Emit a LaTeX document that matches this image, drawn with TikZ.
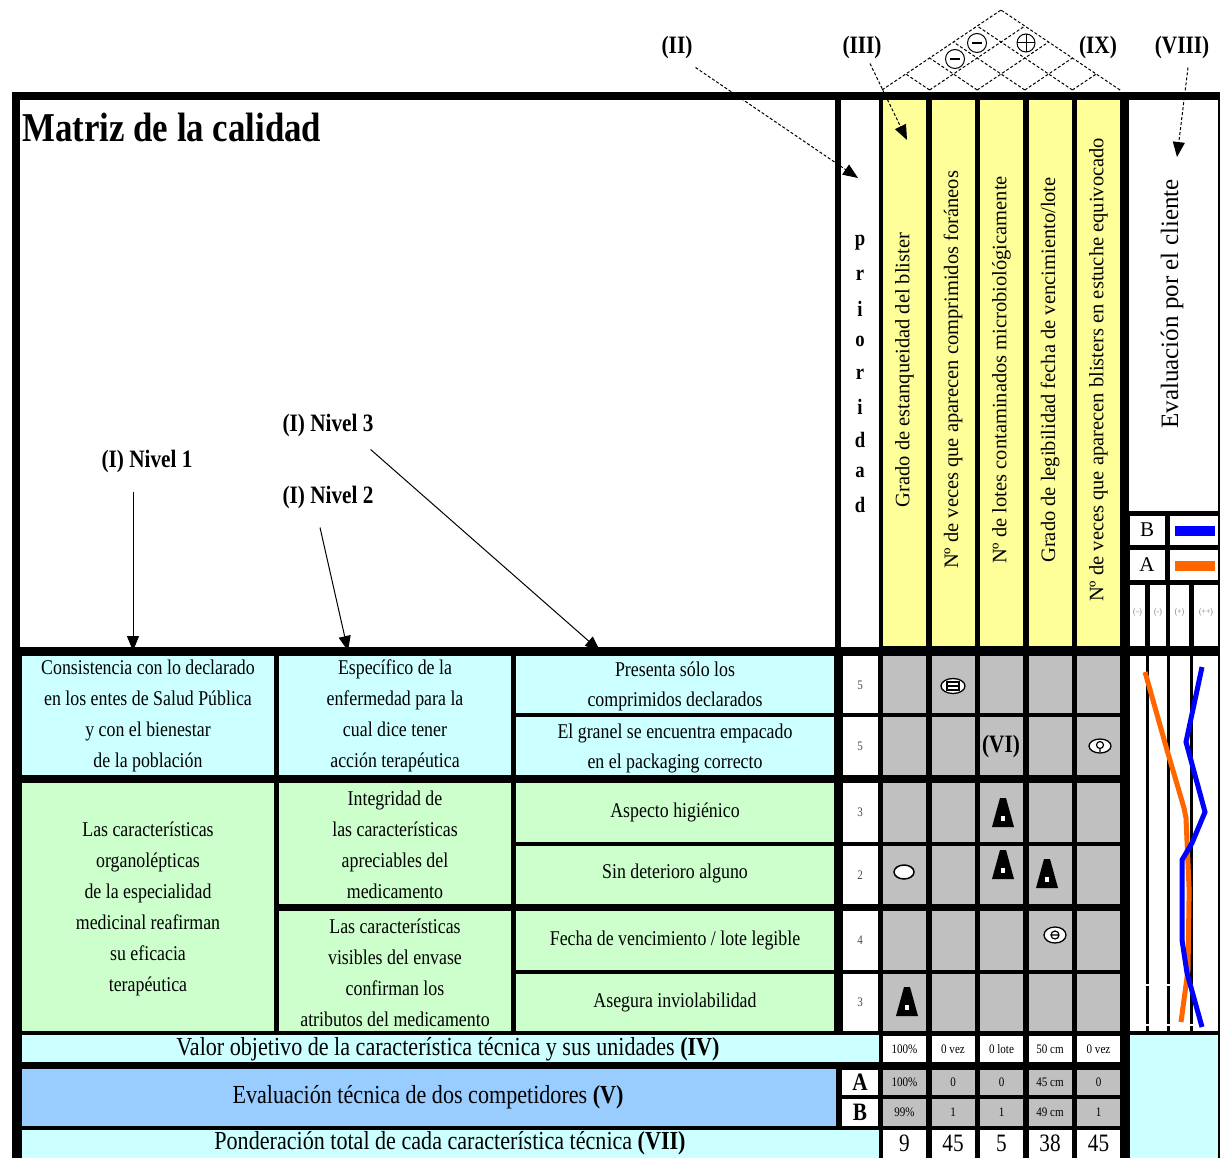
\documentclass[tikz,border=0pt]{standalone}
\usepackage{fontspec}
\setmainfont{Liberation Serif}[FakeStretch=0.85]
\newfontfamily\anchafont{Liberation Serif}
\usetikzlibrary{arrows.meta}

\definecolor{celeste}{HTML}{CCFFFF}
\definecolor{verdecl}{HTML}{CCFFCC}
\definecolor{amarillo}{HTML}{FFFF99}
\definecolor{gris}{HTML}{C0C0C0}
\definecolor{azulcl}{HTML}{99CCFF}
\definecolor{naranja}{HTML}{FF6600}
\definecolor{azul}{HTML}{0000FF}

\tikzset{
  texto/.style={font=\fontsize{21}{31}\selectfont, align=center, inner sep=0pt},
  etiq/.style={font=\fontsize{25}{28}\selectfont\bfseries, inner sep=1pt},
  encab/.style={rotate=90, font=\anchafont\fontsize{20.5}{22}\selectfont, inner sep=0pt},
  valor/.style={font=\fontsize{13}{15}\selectfont, inner sep=0pt},
  grande/.style={font=\fontsize{26}{28}\selectfont, inner sep=0pt},
  flecha/.style={-{Triangle[length=15pt,width=12pt]}, line width=1pt},
  techo/.style={densely dashed, line width=1pt},
  triang/.pic={
    \fill[black] (-3,-15) -- (3,-15) -- (11,14) -- (-11,14) -- cycle;
    \fill[white] (-2,3) rectangle (2,8);
  }
}

\begin{document}
\begin{tikzpicture}[x=1pt,y=-1pt]
\useasboundingbox (0,0) rectangle (1220,1158);
% Draw the black frame of the matrix
\fill[black] (12,92) rectangle (1220,1158);
% Draw the header cells
\fill[white] (20,100) rectangle (835,647);
\fill[white] (841,100) rectangle (879,647);
\foreach \i in {0,...,4}
  \fill[amarillo] ({883+48.5*\i},100) rectangle ({926+48.5*\i},646);
\fill[white] (1129,100) rectangle (1218,511);
% Draw the legend boxes
\foreach \ya/\yb in {516/545,550/580} {
  \fill[white] (1130,\ya) rectangle (1165,\yb);
  \fill[white] (1170,\ya) rectangle (1218,\yb);
}
\foreach \xa/\xb in {1130/1145,1150/1166,1170/1189,1194/1218}
  \fill[white] (\xa,585) rectangle (\xb,646);
\fill[azul] (1175,526) rectangle (1215,536);
\fill[naranja] (1175,561) rectangle (1215,571);
% Draw the priority and relation cells
\foreach \ya/\yb in {656/713,717/775,783/842,846/904,911/970,974/1031} {
  \fill[white] (843,\ya) rectangle (878,\yb);
  \foreach \i in {0,...,4}
    \fill[gris] ({883+48.5*\i},\ya) rectangle ({926+48.5*\i},\yb);
}
% Draw the customer requirement cells
\fill[celeste] (22,656) rectangle (274,775);
\fill[celeste] (279,656) rectangle (511,775);
\fill[celeste] (516,656) rectangle (834,713);
\fill[celeste] (516,717) rectangle (834,775);
\fill[verdecl] (22,783) rectangle (274,1031);
\fill[verdecl] (279,783) rectangle (511,904);
\fill[verdecl] (279,911) rectangle (511,1031);
\foreach \ya/\yb in {783/842,846/904,911/970,974/1031}
  \fill[verdecl] (516,\ya) rectangle (834,\yb);
% Draw the customer evaluation area
\fill[white] (1130,656) rectangle (1218,1031);
\foreach \x in {1147,1168,1191} {
  \draw[line width=3pt] (\x,656) -- (\x,1031);
  \foreach \y in {985,1025}
    \draw[white, line width=1.5pt] (\x-2,\y) -- (\x+2,\y);
}
% Draw the bottom rows
\fill[celeste] (22,1035) rectangle (879,1062);
\fill[azulcl] (22,1069) rectangle (836,1126);
\fill[celeste] (22,1130) rectangle (879,1158);
\fill[white] (842,1070) rectangle (878,1095);
\fill[white] (842,1099) rectangle (878,1126);
\foreach \i in {0,...,4} {
  \fill[white] ({883+48.5*\i},1036) rectangle ({926+48.5*\i},1062);
  \fill[gris] ({883+48.5*\i},1070) rectangle ({926+48.5*\i},1095);
  \fill[gris] ({883+48.5*\i},1099) rectangle ({926+48.5*\i},1126);
  \fill[white] ({883+48.5*\i},1130) rectangle ({926+48.5*\i},1158);
}
\fill[celeste] (1130,1035) rectangle (1218,1158);

% Draw the roof
\pgfmathsetmacro{\pend}{0.672}
\foreach \k in {0,...,5} {
  \pgfmathsetmacro{\b}{882+47.6*\k}
  \draw[techo] (\b,90) -- ({(\b+1120)/2},{90-\pend*(1120-\b)/2});
  \draw[techo] (\b,90) -- ({(882+\b)/2},{90-\pend*(\b-882)/2});
}
\draw[line width=1pt, fill=white] (955,59) circle (9.5);
\draw[line width=1.5pt] (950,59) -- (960,59);
\draw[line width=1pt, fill=white] (977,43) circle (9.5);
\draw[line width=1.5pt] (972,43) -- (982,43);
\draw[line width=1pt, fill=white] (1026,43) circle (9);
\draw[line width=1pt] (1017,43) -- (1035,43) (1026,34) -- (1026,52);

% Title and labels
\node[anchor=base west, font=\fontsize{41}{44}\selectfont\bfseries, inner sep=0pt] (titulo) at (22,142) {Matriz de la calidad};
\node[etiq] (niv1) at (147,461) {(I) Nivel 1};
\node[etiq] (niv2) at (328,497) {(I) Nivel 2};
\node[etiq] (niv3) at (328,425) {(I) Nivel 3};
\node[etiq] (eII) at (677,47) {(II)};
\node[etiq] (eIII) at (862,47) {(III)};
\node[etiq] (eIX) at (1098,47) {(IX)};
\node[etiq] (eVIII) at (1182,47) {(VIII)};
% Arrow targets
\coordinate (t1) at (133,651);
\coordinate (t2) at (348,651);
\coordinate (t3) at (600,651);
\coordinate (t4) at (858,178);
\coordinate (t5) at (907,140);
\coordinate (t6) at (1177,157);
\draw[flecha] ([shift={(-14,18)}]niv1.south) -- (t1);
\draw[flecha] ([shift={(-8,18)}]niv2.south) -- (t2);
\draw[flecha] ([shift={(-4,12)}]niv3.south east) -- (t3);
\draw[flecha, densely dashed] ([shift={(2,8)}]eII.south east) -- (t4);
\draw[flecha, densely dashed] ([shift={(8,4)}]eIII.south) -- (t5);
\draw[flecha, densely dashed] ([shift={(6,8)}]eVIII.south) -- (t6);

% Priority title and technical characteristics
\foreach \l [count=\k from 0] in {p,r,i,o,r,i,d,a,d}
  \node[etiq, font=\fontsize{22}{24}\selectfont\bfseries, inner sep=0pt] (pr\k) at (860,{243+32.75*\k}) {\l};
\foreach \t [count=\i from 0] in {Grado de estanqueidad del blister,
    Nº de veces que aparecen comprimidos foráneos,
    Nº de lotes contaminados microbiológicamente,
    Grado de legibilidad fecha de vencimiento/lote,
    Nº de veces que aparecen blisters en estuche equivocado}
  \node[encab] (col\i) at ({904.5+48.5*\i},370) {\t};
\node[rotate=90, font=\anchafont\fontsize{25}{27}\selectfont, inner sep=0pt] (evcli) at (1172,304) {Evaluación por el cliente};
\node[font=\anchafont\fontsize{21}{23}\selectfont] (legB) at (1147,530) {B};
\node[font=\anchafont\fontsize{21}{23}\selectfont] (legA) at (1147,565) {A};
\foreach \s/\x [count=\k] in {(--)/1137.5,(-)/1158,(+)/1179.5,(++)/1206}
  \node[font=\fontsize{9}{10}\selectfont, text=gray, inner sep=0pt] (esc\k) at (\x,612) {\s};

% Customer requirements
\node[texto] (req1) at (148,716) {Consistencia con lo declarado\\en los entes de Salud Pública\\y con el bienestar\\de la población};
\node[texto] (req2) at (395,716) {Específico de la\\enfermedad para la\\cual dice tener\\acción terapéutica};
\node[texto, font=\fontsize{21}{30}\selectfont] (req3) at (675,686) {Presenta sólo los\\comprimidos declarados};
\node[texto, font=\fontsize{21}{30}\selectfont] (req4) at (675,748) {El granel se encuentra empacado\\en el packaging correcto};
\node[texto] (req5) at (148,909) {Las características\\organolépticas\\de la especialidad\\medicinal reafirman\\su eficacia\\terapéutica};
\node[texto] (req6) at (395,845) {Integridad de\\las características\\apreciables del\\medicamento};
\node[texto] (req7) at (395,973) {Las características\\visibles del envase\\confirman los\\atributos del medicamento};
\node[texto] (req8) at (675,812) {Aspecto higiénico};
\node[texto] (req9) at (675,873) {Sin deterioro alguno};
\node[texto] (req10) at (675,940) {Fecha de vencimiento / lote legible};
\node[texto] (req11) at (675,1002) {Asegura inviolabilidad};
\foreach \p/\y [count=\k] in {5/685,5/746,3/812,2/875,4/940,3/1002}
  \node[valor, text=black!70] (pri\k) at (860,\y) {\p};

% Relations
\draw[line width=1.3pt, fill=white] (953,686) ellipse (12 and 7.5);
\draw[line width=1.3pt] (947,682) rectangle (959,690) (947,686) -- (959,686);
\node[etiq] (rel6) at (1001,746) {(VI)};
\draw[line width=1.3pt, fill=white] (1100,746) ellipse (11 and 7);
\draw[line width=1.2pt] (1100,745) circle (3.5) (1100,748.5) -- (1100,752);
\draw[line width=1.5pt, fill=white] (904,872) ellipse (10 and 7);
\draw[line width=1.3pt, fill=white] (1055,935) ellipse (11 and 8);
\draw[line width=1.2pt] (1055,935) circle (4) (1051,935) -- (1059,935);
\pic at (1003,813) {triang};
\pic at (1003,865) {triang};
\pic at (1047,874) {triang};
\pic at (907,1002) {triang};

% Customer evaluation lines
\draw[naranja, line width=5pt] (1145,672) -- (1167,750) -- (1184,808) -- (1186,818) -- (1189,887) -- (1189,900) -- (1188,970) -- (1181,1022);
\draw[azul, line width=5pt] (1202,667) -- (1186,742) -- (1205,812) -- (1192,843) -- (1182,860) -- (1182,940) -- (1187,973) -- (1202,1027);

% Bottom rows
\node[grande] (objt) at (448,1049) {Valor objetivo de la característica técnica y sus unidades \textbf{(IV)}};
\node[grande] (compt) at (428,1097) {Evaluación técnica de dos competidores \textbf{(V)}};
\node[grande] (pondt) at (450,1143) {Ponderación total de cada característica técnica \textbf{(VII)}};
\node[etiq] (compA) at (860,1082) {A};
\node[etiq] (compB) at (860,1112) {B};
\foreach \v [count=\i from 0] in {100\%,0 vez,0 lote,50 cm,0 vez}
  \node[valor] (obj\i) at ({904.5+48.5*\i},1049) {\v};
\foreach \v [count=\i from 0] in {100\%,0,0,45 cm,0}
  \node[valor] (va\i) at ({904.5+48.5*\i},1082) {\v};
\foreach \v [count=\i from 0] in {99\%,1,1,49 cm,1}
  \node[valor] (vb\i) at ({904.5+48.5*\i},1112) {\v};
\foreach \v [count=\i from 0] in {9,45,5,38,45}
  \node[font=\fontsize{25}{27}\selectfont, inner sep=0pt] (pond\i) at ({904.5+48.5*\i},1143) {\v};
\end{tikzpicture}
\end{document}
